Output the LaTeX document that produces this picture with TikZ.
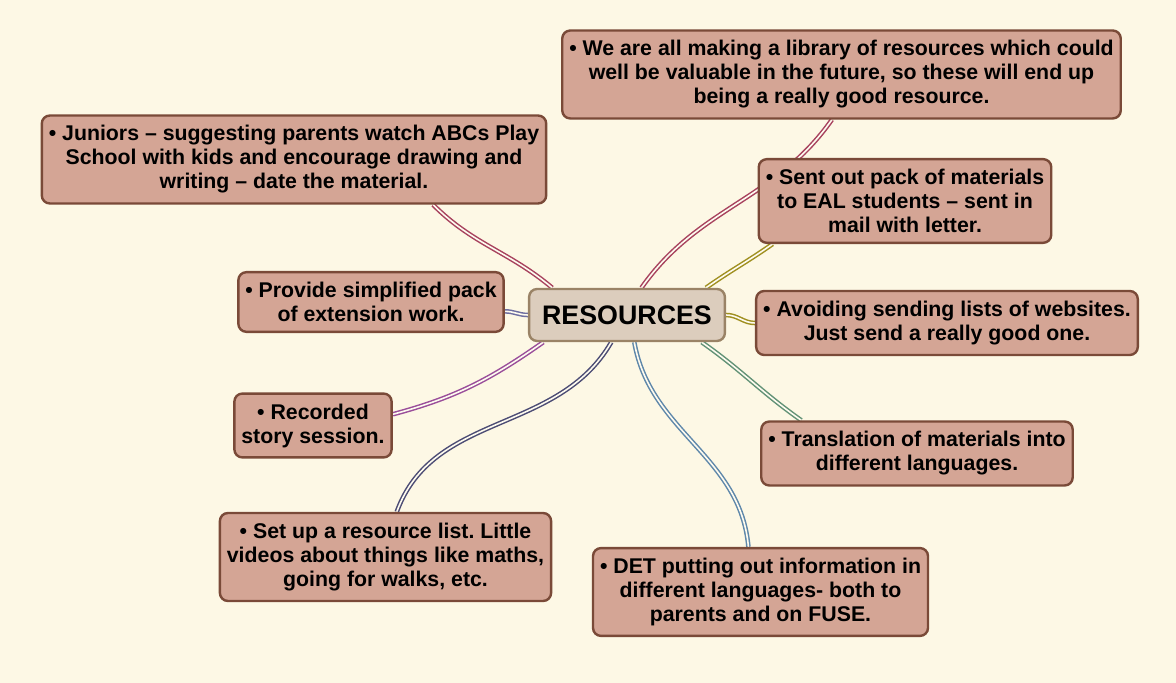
\documentclass[tikz,border=0pt]{standalone}
\usepackage{fontspec}
\setmainfont{Liberation Sans}
\frenchspacing
\definecolor{paper}{HTML}{FDF8E5}
\definecolor{boxfill}{HTML}{D4A595}
\definecolor{boxline}{HTML}{7A4A38}
\definecolor{hubfill}{HTML}{DCCDBD}
\definecolor{hubline}{HTML}{9A8366}
\definecolor{rose}{HTML}{A8435E}
\definecolor{olive}{HTML}{A09020}
\definecolor{slate}{HTML}{6E6EA0}
\definecolor{plum}{HTML}{9A4E9A}
\definecolor{navy}{HTML}{4C4C74}
\definecolor{steel}{HTML}{5F88AA}
\definecolor{sage}{HTML}{629276}
\pgfdeclarelayer{back}
\pgfdeclarelayer{links}
\pgfsetlayers{back,links,main}
\tikzset{
  leaf/.style={draw=boxline, fill=boxfill, line width=2.4pt, rounded corners=8pt,
    align=center, inner xsep=7pt, inner ysep=10pt,
    font=\bfseries\fontsize{21.3}{24}\selectfont},
  hub/.style={draw=hubline, fill=hubfill, line width=2.4pt, rounded corners=8pt,
    inner xsep=13pt, minimum height=52pt, font=\bfseries\fontsize{26.8}{30}\selectfont},
  link/.style={draw=#1, line width=1.5pt, double=paper!60!white, double distance=1.6pt}
}
\begin{document}
\begin{tikzpicture}[x=1pt,y=1pt]
  \begin{pgfonlayer}{back}
    \fill[paper] (0,0) rectangle (1176,683);
  \end{pgfonlayer}
  \path[use as bounding box] (0,0) rectangle (1176,683);

  \node[hub] (res) at (627,368) {RESOURCES};
  \node[leaf] (lib) at (841.5,608.5) {• We are all making a library of resources which could\\
    well be valuable in the future, so these will end up\\ being a really good resource.};
  \node[leaf] (jun) at (294,523.5) {• Juniors – suggesting parents watch ABCs Play\\
    School with kids and encourage drawing and\\ writing – date the material.};
  \node[leaf] (pack) at (905,482) {• Sent out pack of materials\\ to EAL students – sent in\\ mail with letter.};
  \node[leaf] (ext) at (371,381) {• Provide simplified pack\\ of extension work.};
  \node[leaf] (web) at (947,360) {• Avoiding sending lists of websites.\\ Just send a really good one.};
  \node[leaf] (story) at (313,257.5) {• Recorded\\ story session.};
  \node[leaf] (trans) at (917,229.5) {• Translation of materials into\\ different languages.};
  \node[leaf] (list) at (385.5,126) {• Set up a resource list. Little\\
    videos about things like maths,\\ going for walks, etc.};
  \node[leaf] (det) at (760.5,91) {• DET putting out information in\\
    different languages- both to\\ parents and on FUSE.};

  % connectors, behind the boxes
  \begin{pgfonlayer}{links}
    \draw[link=rose] (res.160) to[out=140,in=-45] (jun.-18);
    \draw[link=rose] (res.62) to[out=55,in=-125] (lib.-102);
    \draw[link=olive] (res.19) to[out=35,in=-145] (pack.-162);
    \draw[link=olive] (res.east) to[out=0,in=180] (web.west);
    \draw[link=slate] (res.west) to[out=180,in=0] (ext.-4);
    \draw[link=plum] (res.-162) to[out=-145,in=15] (story.8);
    \draw[link=navy] (res.-120) to[out=-120,in=70] (list.76);
    \draw[link=steel] (res.-75) to[out=-80,in=95] (det.105);
    \draw[link=sage] (res.-20) to[out=-35,in=145] (trans.164);
  \end{pgfonlayer}
\end{tikzpicture}
\end{document}
